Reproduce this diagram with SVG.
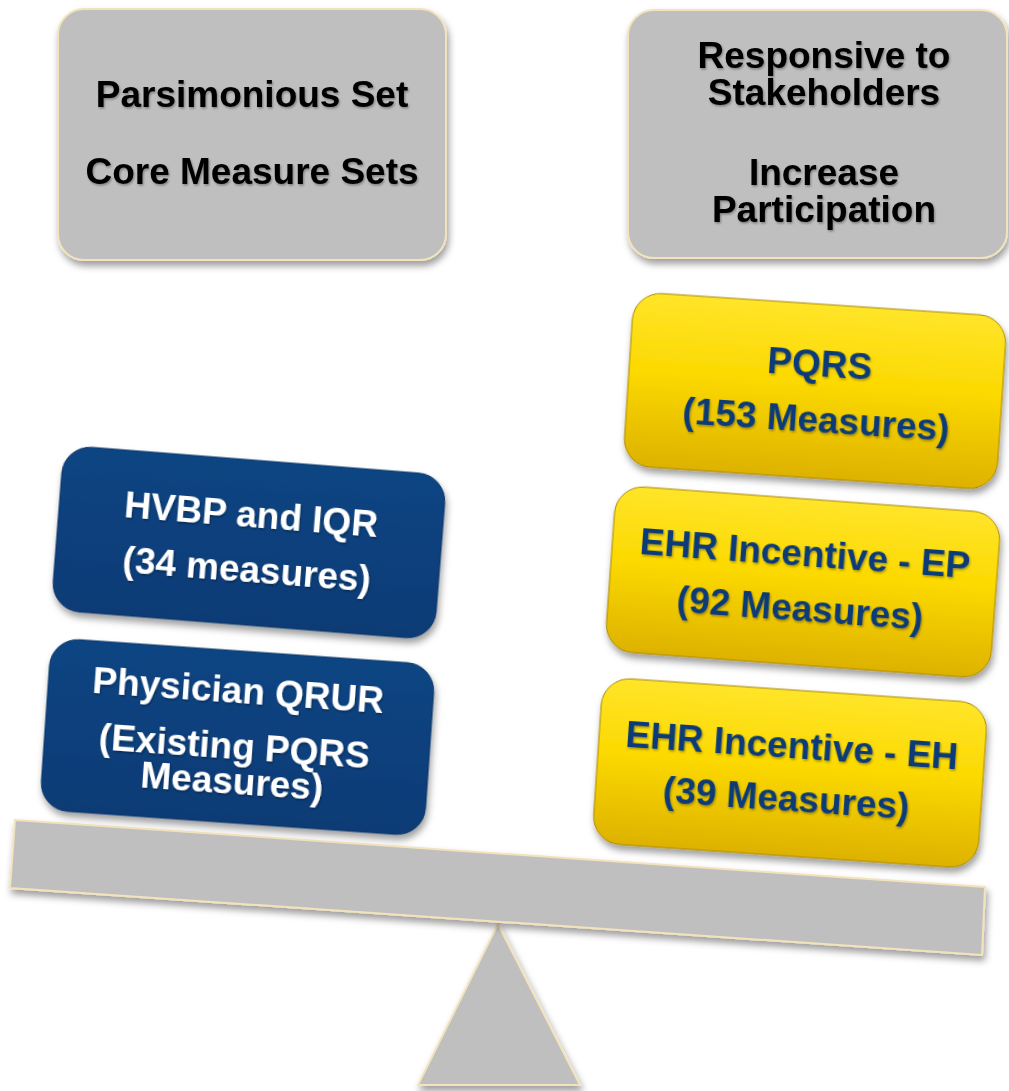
<svg xmlns="http://www.w3.org/2000/svg" width="1009" height="1091" viewBox="0 0 1009 1091">
  <defs>
    <linearGradient id="gYellow" x1="0" y1="0" x2="0" y2="1">
      <stop offset="0" stop-color="#ffe52a"/>
      <stop offset="0.45" stop-color="#fcd900"/>
      <stop offset="1" stop-color="#ddb200"/>
    </linearGradient>
    <linearGradient id="gBlue" x1="0" y1="0" x2="0" y2="1">
      <stop offset="0" stop-color="#114583"/>
      <stop offset="1" stop-color="#0a3b75"/>
    </linearGradient>
    <filter id="boxShadow" x="-10%" y="-10%" width="120%" height="130%">
      <feDropShadow dx="2" dy="5" stdDeviation="3.5" flood-color="#000" flood-opacity="0.38"/>
    </filter>
    <filter id="textShadow" x="-5%" y="-20%" width="110%" height="140%">
      <feDropShadow dx="1" dy="1.5" stdDeviation="1" flood-color="#000" flood-opacity="0.35"/>
    </filter>
  </defs>
  <style>
    .hdr { fill: #bfbfbf; stroke: #f3e3bb; stroke-width: 2; }
    .blue { fill: url(#gBlue); stroke: #0a3566; stroke-width: 1; }
    .yellow { fill: url(#gYellow); stroke: #a88700; stroke-width: 1; }
    .gray { fill: #bfbfbf; stroke: #f3e3bb; stroke-width: 2; }
    text { font-family: "Liberation Sans", Arial, sans-serif; font-weight: bold; text-anchor: middle; }
    .tHdr { font-size: 37px; fill: #000; filter: url(#textShadow); }
    .tWhite { font-size: 37px; fill: #fff; filter: url(#textShadow); }
    .tNavy { font-size: 37px; fill: #0b3b78; filter: url(#textShadow); }
  </style>

  <rect width="1009" height="1091" fill="#fff"/>

  <!-- scale: fulcrum and beam -->
  <g id="scale">
    <polygon class="gray" points="498,924 580,1085 418,1085" filter="url(#boxShadow)"/>
    <polygon class="gray" points="15,820 985,887 982,955 10,888" filter="url(#boxShadow)"/>
  </g>

  <!-- goal headers -->
  <g id="parsimonious">
    <rect class="hdr" x="58" y="9" width="388" height="251" rx="26" filter="url(#boxShadow)"/>
    <text class="tHdr" x="252" y="107">Parsimonious Set</text>
    <text class="tHdr" x="252" y="184">Core Measure Sets</text>
  </g>
  <g id="responsive">
    <rect class="hdr" x="628" y="10" width="379" height="248" rx="26" filter="url(#boxShadow)"/>
    <text class="tHdr" x="824" y="68">Responsive to</text>
    <text class="tHdr" x="824" y="105">Stakeholders</text>
    <text class="tHdr" x="824" y="185">Increase</text>
    <text class="tHdr" x="824" y="222">Participation</text>
  </g>

  <!-- left pan -->
  <g id="hvbp" transform="translate(249,542) rotate(4.5)">
    <rect class="blue" x="-192" y="-82" width="384" height="165" rx="28" filter="url(#boxShadow)"/>
    <text class="tWhite" x="0" y="-15">HVBP and IQR</text>
    <text class="tWhite" x="0" y="40">(34 measures)</text>
  </g>
  <g id="qrur" transform="translate(237,737) rotate(4)">
    <rect class="blue" x="-192" y="-86" width="385" height="172" rx="28" filter="url(#boxShadow)"/>
    <text class="tWhite" x="-2" y="-34">Physician QRUR</text>
    <text class="tWhite" x="-2" y="22">(Existing PQRS</text>
    <text class="tWhite" x="-2" y="57">Measures)</text>
  </g>

  <!-- right pan -->
  <g id="pqrs" transform="translate(815,391) rotate(3.8)">
    <rect class="yellow" x="-187" y="-87" width="374" height="174" rx="28" filter="url(#boxShadow)"/>
    <text class="tNavy" x="3" y="-15">PQRS</text>
    <text class="tNavy" x="3" y="41">(153 Measures)</text>
  </g>
  <g id="ehr-ep" transform="translate(803,582) rotate(4.2)">
    <rect class="yellow" x="-193" y="-83" width="386" height="166" rx="28" filter="url(#boxShadow)"/>
    <text class="tNavy" x="0" y="-16">EHR Incentive - EP</text>
    <text class="tNavy" x="-1" y="39">(92 Measures)</text>
  </g>
  <g id="ehr-eh" transform="translate(790,773) rotate(3.9)">
    <rect class="yellow" x="-193" y="-83" width="386" height="166" rx="28" filter="url(#boxShadow)"/>
    <text class="tNavy" x="0" y="-15">EHR Incentive - EH</text>
    <text class="tNavy" x="-2" y="38">(39 Measures)</text>
  </g>
</svg>
